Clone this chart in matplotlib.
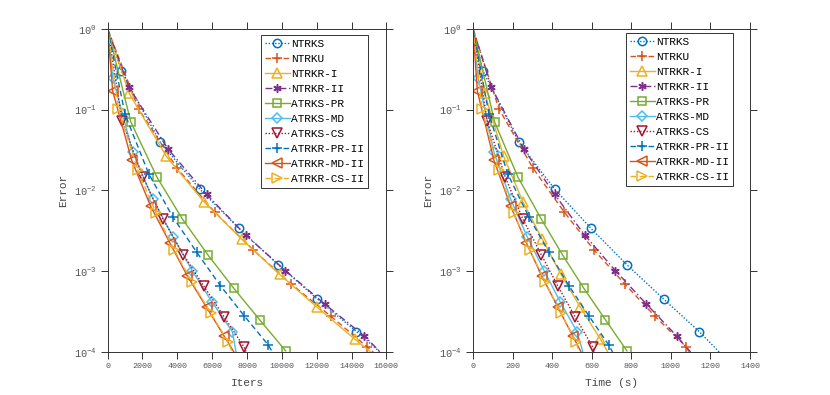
import numpy as np
import matplotlib
matplotlib.use("Agg")
from matplotlib import pyplot as plt

plt.rcParams['font.family'] = ['Liberation Mono', 'DejaVu Sans Mono']
plt.rcParams['mathtext.fontset'] = 'custom'
plt.rcParams['mathtext.rm'] = 'Liberation Mono'

names = ['NTRKS', 'NTRKU', 'NTRKR-I', 'NTRKR-II', 'ATRKS-PR', 'ATRKS-MD',
         'ATRKS-CS', 'ATRKR-PR-II', 'ATRKR-MD-II', 'ATRKR-CS-II']

# error values (start, marked points, end) - same runs in both panels
err_ntrks = [1.0, 0.303, 0.0394, 0.01035, 0.00338, 0.00120, 0.000453, 0.000179, 1e-4]
err_ntrku = [1.0, 0.1026, 0.0189, 0.00535, 0.00185, 0.00069, 0.000278, 0.0001165, 1e-4]
err_ntrkr1 = [1.0, 0.1595, 0.0264, 0.00726, 0.00249, 0.000911, 0.000357, 0.000144, 1e-4]
err_ntrkr2 = [1.0, 0.191, 0.0326, 0.00896, 0.00279, 0.00102, 0.000393, 0.000158, 1e-4]
err_pr = [1.0, 0.0707, 0.0146, 0.00442, 0.00157, 0.000615, 0.000251, 0.000103]
err_md = [1.0, 0.25, 0.0296, 0.00783, 0.00266, 0.00100, 0.000412, 0.000178, 1e-4]
err_cs = [1.0, 0.0734, 0.0146, 0.00442, 0.00160, 0.000652, 0.000273, 0.000115, 1e-4]
err_pr2 = [1.0, 0.0873, 0.0159, 0.00472, 0.00173, 0.000664, 0.000281, 0.000122, 1e-4]
err_md2 = [1.0, 0.17, 0.0235, 0.00641, 0.00226, 0.000868, 0.000357, 0.000158, 1e-4]
err_cs2 = [1.0, 0.1026, 0.0177, 0.0052, 0.00185, 0.00073, 0.0003, 0.000133, 1e-4]

# iterations
it_ntrks = [0, 770, 3022, 5294, 7546, 9798, 12031, 14283, 15630]
it_ntrku = [0, 1771, 3985, 6160, 8335, 10549, 12801, 14880, 15250]
it_ntrkr1 = [0, 1232, 3369, 5525, 7700, 9875, 12031, 14187, 15100]
it_ntrkr2 = [0, 1213, 3465, 5679, 7931, 10202, 12454, 14726, 15650]
it_pr = [0, 1328, 2830, 4293, 5775, 7238, 8720, 10221]
it_md = [0, 289, 1444, 2599, 3754, 4870, 6006, 7161, 7370]
it_cs = [0, 828, 2021, 3176, 4351, 5525, 6680, 7834, 7950]
it_pr2 = [0, 1001, 2368, 3734, 5101, 6468, 7834, 9220, 9450]
it_md2 = [0, 289, 1386, 2464, 3561, 4581, 5679, 6680, 7250]
it_cs2 = [0, 616, 1733, 2791, 3811, 4851, 5929, 6911, 7150]

# time (s)
t_ntrks = [0, 50, 232, 413, 597, 778, 963, 1143, 1244]
t_ntrku = [0, 131, 303, 462, 610, 768, 919, 1076, 1092]
t_ntrkr1 = [0, 59, 155, 252, 350, 445, 543, 644, 681]
t_ntrkr2 = [0, 92, 257, 412, 565, 719, 876, 1029, 1100]
t_pr = [0, 109, 227, 345, 454, 560, 669, 778]
t_md = [0, 25, 106, 190, 274, 361, 442, 526, 555]
t_cs = [0, 71, 163, 252, 345, 429, 516, 605, 612]
t_pr2 = [0, 81, 176, 282, 383, 484, 585, 686, 705]
t_md2 = [0, 22, 106, 190, 269, 348, 429, 504, 546]
t_cs2 = [0, 45, 129, 207, 286, 365, 445, 521, 535]

errs = [err_ntrks, err_ntrku, err_ntrkr1, err_ntrkr2, err_pr, err_md,
        err_cs, err_pr2, err_md2, err_cs2]
iters = [it_ntrks, it_ntrku, it_ntrkr1, it_ntrkr2, it_pr, it_md,
         it_cs, it_pr2, it_md2, it_cs2]
times = [t_ntrks, t_ntrku, t_ntrkr1, t_ntrkr2, t_pr, t_md,
         t_cs, t_pr2, t_md2, t_cs2]

dot = (0, (1, 1.3))
dash = (0, (4, 2.5))
dashdot = (0, (5, 2, 1, 2))
styles = [
    ('#0072BD', dot, 'o'),
    ('#D95319', dash, '+'),
    ('#EDB120', '-', '^'),
    ('#7E2F8E', dashdot, (6, 2, 0)),
    ('#77AC30', '-', 's'),
    ('#4DBEEE', '-', 'D'),
    ('#A2142F', dot, 'v'),
    ('#0072BD', dash, '+'),
    ('#D95319', '-', '<'),
    ('#EDB120', dash, '>'),
]
msizes = [6, 7, 7, 6, 5.5, 5, 7, 7, 7, 7]

fig = plt.figure(figsize=(8.3, 3.95), dpi=100)
ax1 = fig.add_axes([0.1297, 0.109, 0.3358, 0.8177])
ax2 = fig.add_axes([0.5699, 0.109, 0.3337, 0.8177])

for ax, xs, xmax, xstep, xlab, anchor in [(ax1, iters, 16000, 2000, 'Iters', (0.934, 0.981)),
                                           (ax2, times, 1400, 200, 'Time (s)', (0.9386, 0.988))]:
    for i in range(len(names)):
        c, ls, mk = styles[i]
        y = errs[i]
        n = len(y)
        ax.plot(xs[i], y, color=c, linestyle=ls, marker=mk, markersize=msizes[i],
                markerfacecolor='none', markeredgewidth=1.1, linewidth=1.0,
                markevery=list(range(1, n - 1)) if n > 8 else list(range(1, n)),
                label=names[i])
    ax.set_yscale('log')
    ax.set_ylim(1e-4, 1)
    ax.set_xlim(0, xmax)
    ax.set_xticks(np.arange(0, xmax + 1, xstep))
    ax.set_yticks([1e-4, 1e-3, 1e-2, 1e-1, 1])
    ax.set_yticklabels([r'$10^{-4}$', r'$10^{-3}$', r'$10^{-2}$', r'$10^{-1}$', r'$10^{0}$'])
    ax.minorticks_off()
    ax.tick_params(which='both', direction='out', length=5, width=0.7, top=True, right=True,
                   labelsize=6, labelcolor='#555555', color='#333333', pad=3)
    ax.tick_params(axis='y', labelsize=7.5)
    for sp in ax.spines.values():
        sp.set_linewidth(0.7)
        sp.set_color('#333333')
    ax.set_xlabel(xlab, fontsize=8, color='#444444', labelpad=6)
    ax.set_ylabel('Error', fontsize=8, color='#444444', labelpad=4)
    leg = ax.legend(loc='upper right', fontsize=8, handlelength=2.3, handletextpad=0.1,
                    borderpad=0.35, labelspacing=0.45, borderaxespad=0,
                    fancybox=False, framealpha=1, edgecolor='#333333',
                    bbox_to_anchor=anchor)
    leg.get_frame().set_linewidth(0.7)

fig.savefig('out.png', dpi=100)
